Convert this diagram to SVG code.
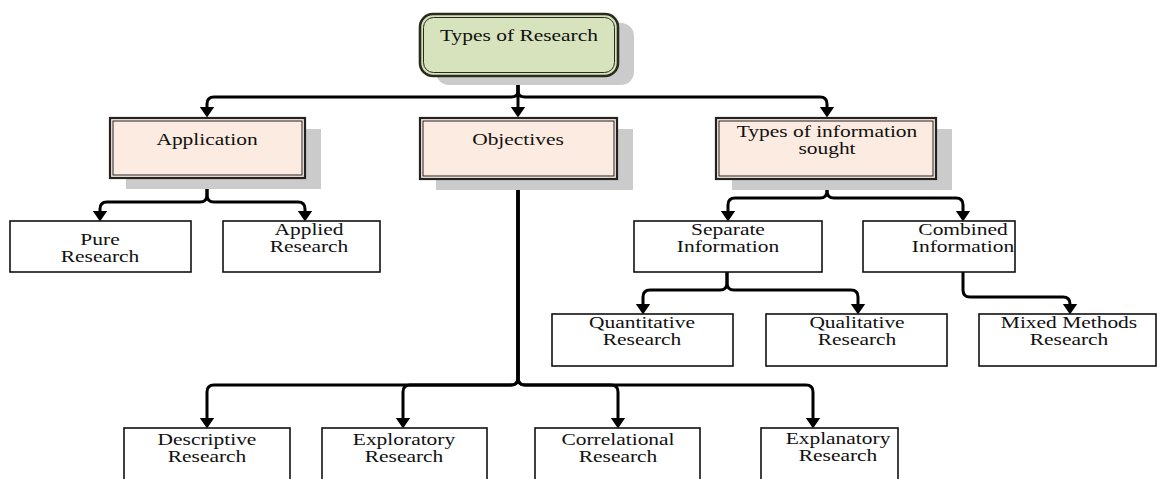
<svg xmlns="http://www.w3.org/2000/svg" width="1158" height="479" viewBox="0 0 1158 479">
<style>
.t{font-family:"Liberation Serif","Times New Roman",serif;font-size:16px;fill:#111;text-anchor:middle}
.box{fill:#fff;stroke:#111;stroke-width:1.6}
.pe{fill:#FCEBE0;stroke:#222;stroke-width:2.2}
.pi{fill:none;stroke:#222;stroke-width:1}
.sh{fill:#CBCBCB}
.c{fill:none;stroke:#000;stroke-width:3;marker-end:url(#ah)}
</style>
<defs>
<marker id="ah" markerUnits="userSpaceOnUse" viewBox="0 -8 11 16" refX="0.5" refY="0" markerWidth="11" markerHeight="16" orient="auto">
<path d="M0,-7.5 L11,0 L0,7.5 Z" fill="#000"/>
</marker>
</defs>
<rect width="1158" height="479" fill="#fff"/>

<g id="connectors">
<path class="c" d="M518,77 V91 Q518,97 511,97 H214 Q207,97 207,104 V107"/>
<path class="c" d="M518,77 V107"/>
<path class="c" d="M518,77 V91 Q518,97 525,97 H820 Q827,97 827,104 V107"/>
<path class="c" d="M207,179 V195 Q207,202 200,202 H107 Q100,202 100,209 V211"/>
<path class="c" d="M207,179 V195 Q207,202 214,202 H298 Q305,202 305,209 V211"/>
<path class="c" d="M827,179 V191 Q827,198 820,198 H735 Q728,198 728,205 V211"/>
<path class="c" d="M827,179 V191 Q827,198 834,198 H956 Q963,198 963,205 V211"/>
<path class="c" d="M727,272 V283 Q727,290 720,290 H650 Q643,290 643,297 V304"/>
<path class="c" d="M727,272 V283 Q727,290 734,290 H851 Q858,290 858,297 V304"/>
<path class="c" d="M963,272 V290 Q963,297 970,297 H1063 Q1070,297 1070,304"/>
<path class="c" d="M518,179 V378 Q518,385 511,385 H214 Q207,385 207,392 V418"/>
<path class="c" d="M518,179 V378 Q518,385 511,385 H410 Q403,385 403,392 V418"/>
<path class="c" d="M518,179 V378 Q518,385 525,385 H611 Q618,385 618,392 V418"/>
<path class="c" d="M518,179 V378 Q518,385 525,385 H806 Q813,385 813,392 V418"/>
</g>

<g id="types-of-research">
<rect class="sh" x="436" y="23" width="198" height="62" rx="13"/>
<rect x="420" y="14" width="198" height="62" rx="13" fill="#D6E3BC" stroke="#2a2a1e" stroke-width="2.6"/>
<rect x="423.5" y="17.5" width="191" height="55" rx="10" fill="none" stroke="#2a2a1e" stroke-width="1"/>
<text class="t" transform="translate(519,41) scale(1.34,1)">Types of Research</text>
</g>

<g id="application">
<rect class="sh" x="126" y="129" width="195" height="60"/>
<rect class="pe" x="110" y="118" width="195" height="60"/>
<rect class="pi" x="113" y="121" width="189" height="54"/>
<text class="t" transform="translate(207,145) scale(1.34,1)">Application</text>
</g>

<g id="objectives">
<rect class="sh" x="436" y="129" width="197" height="61"/>
<rect class="pe" x="420" y="118" width="197" height="61"/>
<rect class="pi" x="423" y="121" width="191" height="55"/>
<text class="t" transform="translate(518,145) scale(1.34,1)">Objectives</text>
</g>

<g id="types-of-information">
<rect class="sh" x="732" y="129" width="220" height="61"/>
<rect class="pe" x="716" y="118" width="220" height="61"/>
<rect class="pi" x="719" y="121" width="214" height="55"/>
<text class="t" transform="translate(827,137) scale(1.34,1)"><tspan x="0">Types of information</tspan><tspan x="0" dy="17">sought</tspan></text>
</g>

<g id="pure-research">
<rect class="box" x="10" y="221" width="181" height="51"/>
<text class="t" transform="translate(100,245) scale(1.34,1)"><tspan x="0">Pure</tspan><tspan x="0" dy="17">Research</tspan></text>
</g>

<g id="applied-research">
<rect class="box" x="223" y="221" width="157" height="51"/>
<text class="t" transform="translate(309,235) scale(1.34,1)"><tspan x="0">Applied</tspan><tspan x="0" dy="17">Research</tspan></text>
</g>

<g id="separate-information">
<rect class="box" x="634" y="221" width="188" height="51"/>
<text class="t" transform="translate(728,235) scale(1.34,1)"><tspan x="0">Separate</tspan><tspan x="0" dy="17">Information</tspan></text>
</g>

<g id="combined-information">
<rect class="box" x="863" y="221" width="152" height="51"/>
<text class="t" transform="translate(963,235) scale(1.34,1)"><tspan x="0">Combined</tspan><tspan x="0" dy="17">Information</tspan></text>
</g>

<g id="quantitative-research">
<rect class="box" x="552" y="314" width="181" height="52"/>
<text class="t" transform="translate(642,328) scale(1.34,1)"><tspan x="0">Quantitative</tspan><tspan x="0" dy="17">Research</tspan></text>
</g>

<g id="qualitative-research">
<rect class="box" x="766" y="314" width="181" height="52"/>
<text class="t" transform="translate(857,328) scale(1.34,1)"><tspan x="0">Qualitative</tspan><tspan x="0" dy="17">Research</tspan></text>
</g>

<g id="mixed-methods-research">
<rect class="box" x="979" y="314" width="177" height="52"/>
<text class="t" transform="translate(1069,328) scale(1.34,1)"><tspan x="0">Mixed Methods</tspan><tspan x="0" dy="17">Research</tspan></text>
</g>

<g id="descriptive-research">
<rect class="box" x="124" y="428" width="166" height="70"/>
<text class="t" transform="translate(207,445) scale(1.34,1)"><tspan x="0">Descriptive</tspan><tspan x="0" dy="17">Research</tspan></text>
</g>

<g id="exploratory-research">
<rect class="box" x="322" y="428" width="165" height="70"/>
<text class="t" transform="translate(404,445) scale(1.34,1)"><tspan x="0">Exploratory</tspan><tspan x="0" dy="17">Research</tspan></text>
</g>

<g id="correlational-research">
<rect class="box" x="535" y="428" width="165" height="70"/>
<text class="t" transform="translate(618,445) scale(1.34,1)"><tspan x="0">Correlational</tspan><tspan x="0" dy="17">Research</tspan></text>
</g>

<g id="explanatory-research">
<rect class="box" x="761" y="428" width="137" height="70"/>
<text class="t" transform="translate(838,444) scale(1.34,1)"><tspan x="0">Explanatory</tspan><tspan x="0" dy="17">Research</tspan></text>
</g>
</svg>
